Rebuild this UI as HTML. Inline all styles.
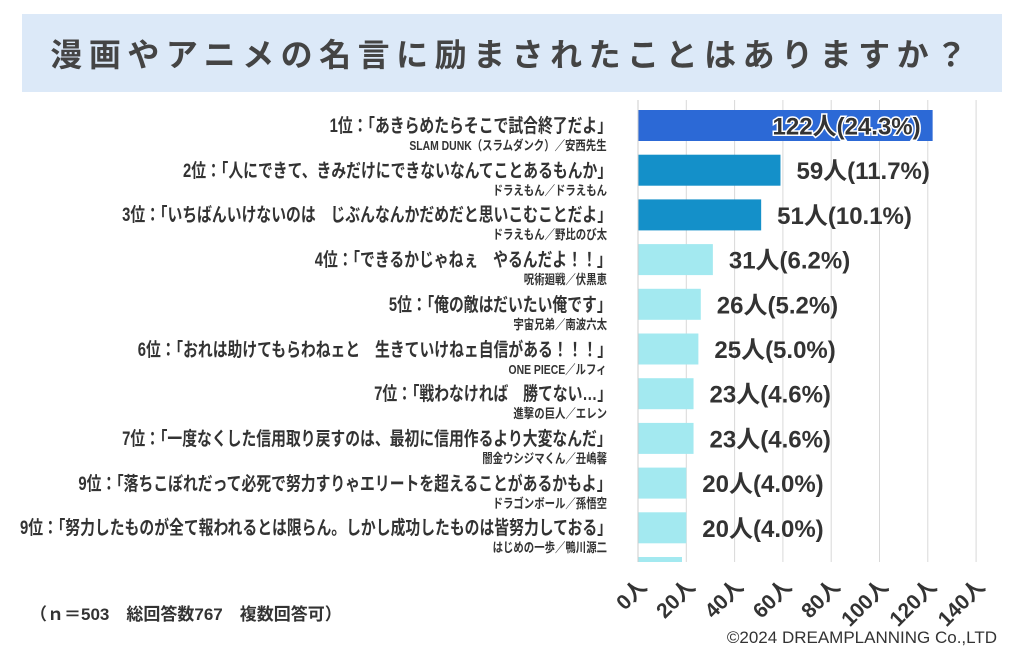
<!DOCTYPE html>
<html><head><meta charset="utf-8">
<style>
body{margin:0;width:1024px;height:658px;background:#fff;overflow:hidden;position:relative;font-family:"Liberation Sans","Noto Sans CJK JP",sans-serif;color:#333}
#title{position:absolute;left:22px;top:14px;width:980px;height:78px;background:#dce9f8;display:flex;align-items:center;justify-content:center;font-size:32px;font-weight:bold;color:#444;letter-spacing:6.5px}
.lbl{position:absolute;right:412px;white-space:nowrap;font-weight:bold;font-size:19px;transform:scaleX(0.78);transform-origin:right center;color:#333}
.sub{position:absolute;right:417px;white-space:nowrap;font-weight:bold;font-size:13px;transform:scaleX(0.8);transform-origin:right center;color:#333}
#foot{position:absolute;left:30px;top:600px;font-size:17px;font-weight:bold;color:#333}
#copy{position:absolute;right:27px;top:628px;font-size:17px;color:#333}
</style></head><body>
<div id="title">漫画やアニメの名言に励まされたことはありますか？</div>
<div id="labels"></div>
<svg id="chart" width="1024" height="658" style="position:absolute;left:0;top:0"></svg>
<div id="foot">（ｎ＝503　総回答数767　複数回答可）</div>
<div id="copy">©2024 DREAMPLANNING Co.,LTD</div>
<script>
const categories=["1位：「あきらめたらそこで試合終了だよ」","2位：「人にできて、きみだけにできないなんてことあるもんか」","3位：「いちばんいけないのは　じぶんなんかだめだと思いこむことだよ」","4位：「できるかじゃねぇ　やるんだよ！！」","5位：「俺の敵はだいたい俺です」","6位：「おれは助けてもらわねェと　生きていけねェ自信がある！！！」","7位：「戦わなければ　勝てない…」","7位：「一度なくした信用取り戻すのは、最初に信用作るより大変なんだ」","9位：「落ちこぼれだって必死で努力すりゃエリートを超えることがあるかもよ」","9位：「努力したものが全て報われるとは限らん。しかし成功したものは皆努力しておる」"];
const sources=["SLAM DUNK（スラムダンク）／安西先生","ドラえもん／ドラえもん","ドラえもん／野比のび太","呪術廻戦／伏黒恵","宇宙兄弟／南波六太","ONE PIECE／ルフィ","進撃の巨人／エレン","闇金ウシジマくん／丑嶋馨","ドラゴンボール／孫悟空","はじめの一歩／鴨川源二"];
const counts=[122,59,51,31,26,25,23,23,20,20];
const pcts=["24.3","11.7","10.1","6.2","5.2","5.0","4.6","4.6","4.0","4.0"];
const ticks=[0,20,40,60,80,100,120,140];
const NS="http://www.w3.org/2000/svg";
const svg=document.getElementById('chart');
const x0=638,unit=48.3/20,top0=110,pitch=44.7,bh=31;
const X=v=>x0+v*unit, Y=i=>top0+i*pitch;
function mk(t,a){const e=document.createElementNS(NS,t);for(const k in a)e.setAttribute(k,a[k]);svg.appendChild(e);return e;}
ticks.forEach((t,i)=>{
 const g=mk('line',{x1:X(t),x2:X(t),y1:100,y2:562,stroke:'#d8d8d8','stroke-width':1});
 
 
 const tx=mk('text',{x:X(t)+10,y:588,'text-anchor':'end','font-size':21,'font-weight':'bold',fill:'#333',transform:`rotate(-45 ${X(t)+10} 588)`,'font-family':'"Liberation Sans","Noto Sans CJK JP",sans-serif'});
 tx.textContent=t+'人';
 
 
});
const labels=document.getElementById('labels');
counts.forEach((c,i)=>{
 const col=i==0?'#2c69d6':(i<3?'#1490c9':'#a3e9f0');
 const r=mk('rect',{x:x0,y:Y(i),width:X(c)-x0,height:bh,fill:col});
 
 
 const txt=c+'人('+pcts[i]+'%)';
 let t;
 if(i==0){
  t=mk('text',{x:X(c)-12,y:Y(i)+bh/2+9,'text-anchor':'end','font-size':24,'font-weight':'bold',fill:'#333',stroke:'#fff','stroke-width':3,'paint-order':'stroke','font-family':'"Liberation Sans","Noto Sans CJK JP",sans-serif'});
 }else{
  t=mk('text',{x:X(c)+16,y:Y(i)+bh/2+9,'font-size':24,'font-weight':'bold',fill:'#333','font-family':'"Liberation Sans","Noto Sans CJK JP",sans-serif'});
 }
 t.textContent=txt;
 
 
 const l=document.createElement('div');l.className='lbl';l.style.top=(Y(i)+1)+'px';l.textContent=categories[i];
 
 
 labels.appendChild(l);
 const s=document.createElement('div');s.className='sub';s.style.top=(Y(i)+25)+'px';s.textContent=sources[i];
 
 
 labels.appendChild(s);
});
const p=mk('rect',{x:x0,y:Y(10),width:44,height:562-Y(10),fill:'#a3e9f0'});


mk('line',{x1:x0,x2:x0,y1:100,y2:562,stroke:'#ccc','stroke-width':1});
</script>
</body></html>
